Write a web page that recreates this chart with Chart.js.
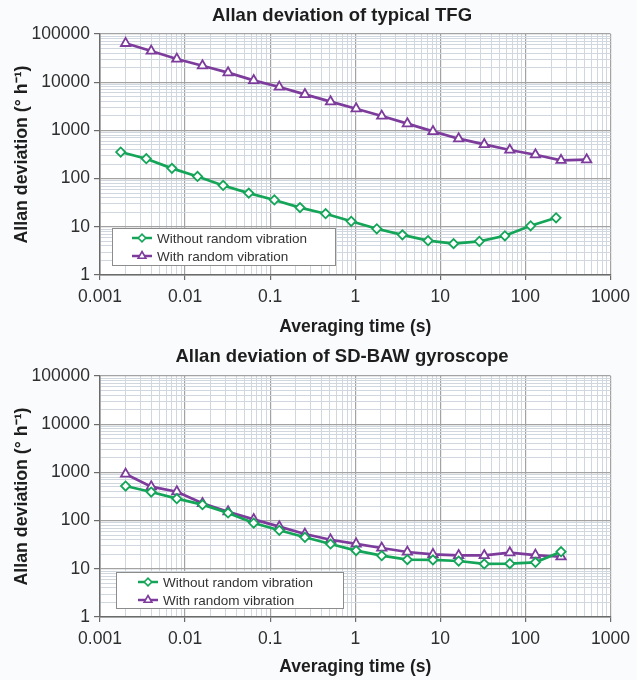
<!DOCTYPE html>
<html>
<head>
<meta charset="utf-8">
<script src="https://cdn.jsdelivr.net/npm/chart.js@4/dist/chart.umd.min.js"></script>
<style>
  html, body { margin: 0; padding: 0; background: #fafbfc; }
  #wrap { width: 637px; height: 680px; }
  canvas { display: block; }
</style>
</head>
<body>
<div id="wrap">
  <canvas id="tfgChart" width="637" height="340"></canvas>
  <canvas id="bawChart" width="637" height="340"></canvas>
</div>
<script>
// 刻度（十進位主刻度）
const xDecades = [0.001, 0.01, 0.1, 1, 10, 100, 1000];
const yDecades = [1, 10, 100, 1000, 10000, 100000];
const minorSteps = [2, 3, 4, 5, 6, 7, 8, 9];

// 圖例文字
const seriesLabels = ['Without random vibration', 'With random vibration'];

// 上圖：typical TFG
const tfgTauWithout = [0.00175, 0.0035, 0.007, 0.014, 0.028, 0.056, 0.112, 0.224, 0.448, 0.896, 1.79, 3.58, 7.17, 14.3, 28.7, 57.3, 115, 229];
const tfgWithout = [356, 259, 163, 111, 72, 50, 36, 25, 18.7, 13.0, 9.1, 6.8, 5.15, 4.47, 5.0, 6.5, 10.5, 15.4];
const tfgTauWith = [0.002, 0.004, 0.008, 0.016, 0.032, 0.064, 0.128, 0.256, 0.512, 1.024, 2.048, 4.096, 8.19, 16.4, 32.8, 65.5, 131, 262, 524];
const tfgWith = [64100, 44400, 30300, 22000, 15800, 10900, 7950, 5600, 3950, 2820, 1990, 1380, 956, 673, 514, 392, 313, 240, 247];

// 下圖：SD-BAW gyroscope
const bawTau = [0.002, 0.004, 0.008, 0.016, 0.032, 0.064, 0.128, 0.256, 0.512, 1.024, 2.048, 4.096, 8.19, 16.4, 32.8, 65.5, 131, 262];
const bawWithout = [522, 392, 285, 214, 144, 89, 63, 45, 32.7, 23.8, 18.7, 15.5, 15.3, 14.5, 12.6, 12.8, 13.6, 22.6];
const bawWith = [927, 506, 398, 228, 153, 106, 75, 52.7, 40, 33, 27, 22.3, 20, 19, 19, 21.6, 19.3, 17.8];

const FONT = "'Liberation Sans', Arial, sans-serif";
const GREEN = '#14a558';
const PURPLE = '#7d3c9c';

function toPoints(xs, ys) {
    return xs.map((x, i) => ({ x: x, y: ys[i] }));
}

// 主刻度 + 次刻度
function logTicks(decades) {
    const ticks = [];
    decades.forEach((d, i) => {
        ticks.push({ value: d, major: true });
        if (i < decades.length - 1) {
            minorSteps.forEach(s => ticks.push({ value: d * s, major: false }));
        }
    });
    return ticks;
}

function isMajor(ctx) {
    return ctx.tick && ctx.tick.major;
}

// 圖表區白底
const plotBackground = {
    id: 'plotBackground',
    beforeDraw(chart) {
        const a = chart.chartArea;
        const c = chart.ctx;
        c.save();
        c.fillStyle = '#ffffff';
        c.fillRect(a.left, a.top, a.right - a.left, a.bottom - a.top);
        c.restore();
    }
};

// 標題（原圖並非置中於繪圖區）
const offsetTitle = {
    id: 'offsetTitle',
    afterDraw(chart, args, opts) {
        const c = chart.ctx;
        c.save();
        c.fillStyle = '#1e1e1e';
        c.font = 'bold 18.5px ' + FONT;
        c.textAlign = 'center';
        c.textBaseline = 'middle';
        c.fillText(opts.text, opts.x, opts.y);
        c.restore();
    }
};

// 框內圖例
const boxLegend = {
    id: 'boxLegend',
    afterDatasetsDraw(chart, args, opts) {
        const c = chart.ctx;
        c.save();
        c.fillStyle = '#ffffff';
        c.fillRect(opts.x, opts.y, opts.w, opts.h);
        c.strokeStyle = '#8c8c8c';
        c.lineWidth = 1;
        c.strokeRect(opts.x + 0.5, opts.y + 0.5, opts.w, opts.h);

        chart.data.datasets.forEach((ds, i) => {
            const y = opts.y + opts.rowTop + i * opts.rowGap;
            const x0 = opts.x + opts.lineStart;
            c.strokeStyle = ds.borderColor;
            c.lineWidth = 2.5;
            c.beginPath();
            c.moveTo(x0, y);
            c.lineTo(x0 + opts.lineLen, y);
            c.stroke();
            c.fillStyle = '#ffffff';
            c.lineWidth = 1.6;
            Chart.helpers.drawPoint(c, {
                pointStyle: ds.pointStyle,
                radius: ds.pointStyle === 'triangle' ? 4.5 : 3.8,
                rotation: 0,
                borderWidth: 1.6
            }, x0 + opts.lineLen / 2, y);
            c.fillStyle = '#333';
            c.font = '13.5px ' + FONT;
            c.textBaseline = 'middle';
            c.textAlign = 'left';
            c.fillText(ds.label, x0 + opts.lineLen + 5, y + 1);
        });
        c.restore();
    }
};

function makeChart(canvasId, title, withoutPts, withPts, geo) {
    const ctx = document.getElementById(canvasId).getContext('2d');
    return new Chart(ctx, {
        type: 'line',
        data: {
            datasets: [{
                label: seriesLabels[0],
                data: withoutPts,
                borderColor: GREEN,
                backgroundColor: '#ffffff',
                pointBackgroundColor: '#ffffff',
                pointBorderColor: GREEN,
                pointStyle: 'rectRot',
                pointRadius: 4.6,
                pointBorderWidth: 1.8,
                borderWidth: 2.7,
                tension: 0
            }, {
                label: seriesLabels[1],
                data: withPts,
                borderColor: PURPLE,
                backgroundColor: '#ffffff',
                pointBackgroundColor: '#ffffff',
                pointBorderColor: PURPLE,
                pointStyle: 'triangle',
                pointRadius: 5.4,
                pointBorderWidth: 1.8,
                borderWidth: 2.7,
                tension: 0
            }]
        },
        options: {
            responsive: false,
            animation: false,
            devicePixelRatio: 1,
            layout: { padding: { left: 0, right: geo.right, top: geo.top, bottom: 0 } },
            plugins: {
                legend: { display: false },
                tooltip: { enabled: false },
                title: { display: false },
                offsetTitle: { text: title, x: 342, y: geo.titleY },
                boxLegend: geo.legend
            },
            scales: {
                x: {
                    type: 'logarithmic',
                    min: xDecades[0],
                    max: xDecades[xDecades.length - 1],
                    afterBuildTicks: s => { s.ticks = logTicks(xDecades); },
                    afterFit: s => { s.height = geo.xHeight; },
                    border: { color: '#6b6b6b', width: 1.5 },
                    grid: {
                        color: c => isMajor(c) ? '#a3a3a3' : '#d0d7df',
                        lineWidth: c => isMajor(c) ? 1.2 : 1,
                        tickColor: c => isMajor(c) ? '#6b6b6b' : 'rgba(0,0,0,0)',
                        tickLength: 5
                    },
                    ticks: {
                        autoSkip: false,
                        maxRotation: 0,
                        padding: 7,
                        color: '#2e2e2e',
                        font: { family: FONT, size: 17.5 },
                        callback: (v, i, ticks) => ticks[i].major ? String(v) : ''
                    },
                    title: {
                        display: true,
                        text: 'Averaging time (s)',
                        color: '#1e1e1e',
                        font: { family: FONT, size: 17.5, weight: 'bold' },
                        padding: { top: 0, bottom: 2 }
                    }
                },
                y: {
                    type: 'logarithmic',
                    min: yDecades[0],
                    max: yDecades[yDecades.length - 1],
                    afterBuildTicks: s => { s.ticks = logTicks(yDecades); },
                    afterFit: s => { s.width = 100; },
                    border: { color: '#6b6b6b', width: 1.5 },
                    grid: {
                        color: c => isMajor(c) ? '#a3a3a3' : '#d0d7df',
                        lineWidth: c => isMajor(c) ? 1.2 : 1,
                        tickColor: c => isMajor(c) ? '#6b6b6b' : 'rgba(0,0,0,0)',
                        tickLength: 6
                    },
                    ticks: {
                        autoSkip: false,
                        padding: 4,
                        color: '#2e2e2e',
                        font: { family: FONT, size: 17.5 },
                        callback: (v, i, ticks) => ticks[i].major ? String(v) : ''
                    },
                    title: {
                        display: true,
                        text: 'Allan deviation (° h⁻¹)',
                        color: '#1e1e1e',
                        font: { family: FONT, size: 17.8, weight: 'bold' },
                        padding: { top: 11, bottom: 0 }
                    }
                }
            }
        },
        plugins: [plotBackground, offsetTitle, boxLegend]
    });
}

makeChart('tfgChart', 'Allan deviation of typical TFG',
    toPoints(tfgTauWithout, tfgWithout), toPoints(tfgTauWith, tfgWith),
    {
        right: 22, top: 34, titleY: 16, xHeight: 65,
        legend: { x: 112, y: 228, w: 223, h: 37, lineStart: 20, lineLen: 20, rowTop: 10, rowGap: 18 }
    });

makeChart('bawChart', 'Allan deviation of SD-BAW gyroscope',
    toPoints(bawTau, bawWithout), toPoints(bawTau, bawWith),
    {
        right: 19, top: 36, titleY: 17, xHeight: 63,
        legend: { x: 116, y: 232, w: 227, h: 36, lineStart: 22, lineLen: 20, rowTop: 10, rowGap: 18 }
    });
</script>
</body>
</html>
